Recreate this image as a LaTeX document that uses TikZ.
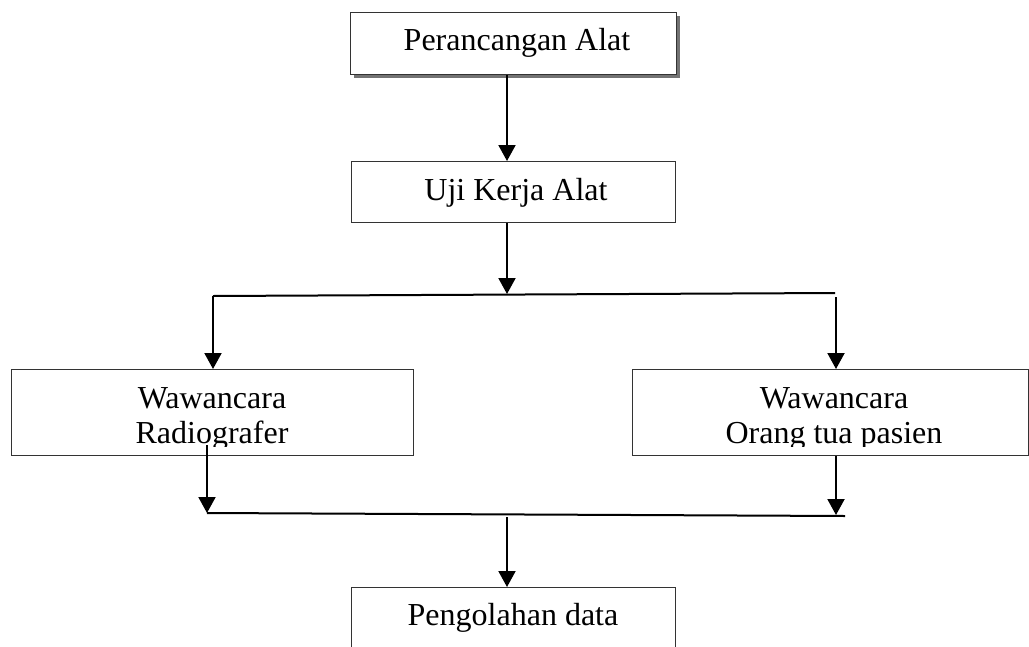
\documentclass[tikz,border=0pt]{standalone}
\usepackage{fontspec}
\setmainfont{Liberation Serif}
\usetikzlibrary{arrows.meta,shadows}
\begin{document}
\begin{tikzpicture}[x=1pt,y=-1pt,
  box/.style={draw=black!80,line width=1.1pt,inner sep=0pt,anchor=north west,fill=white},
  lbl/.style={anchor=base,inner sep=0pt,font=\fontsize{32}{36}\selectfont},
  wire/.style={line width=2pt},
  arr/.style={line width=2pt,-{Triangle[width=17pt,length=16pt]}}]
\useasboundingbox (0,0) rectangle (1029,646);
\clip (0,0) rectangle (1029,646);
% boxes
\node[box,minimum width=326pt,minimum height=62pt,
      drop shadow={shadow xshift=3pt,shadow yshift=-3.5pt,fill=black!55,opacity=1}] (b1) at (350,12) {};
\node[box,minimum width=324pt,minimum height=61pt] (b2) at (351,161) {};
\node[box,minimum width=402pt,minimum height=86pt] (b3) at (11,369) {};
\node[box,minimum width=396pt,minimum height=86pt] (b4) at (632,369) {};
\node[box,minimum width=324pt,minimum height=100pt] (b5) at (351,587) {};
% texts
\node[lbl] (t1) at (517,50) {Perancangan Alat};
\node[lbl] (t2) at (516,200) {Uji Kerja Alat};
\begin{scope}
  \clip (b3.north west) rectangle (413,446);
  \node[lbl] (t3a) at (212,408) {Wawancara};
  \node[lbl] (t3b) at (212,443) {Radiografer};
\end{scope}
\begin{scope}
  \clip (b4.north west) rectangle (1028,446);
  \node[lbl] (t4a) at (834,408) {Wawancara};
  \node[lbl] (t4b) at (834,443) {Orang tua pasien};
\end{scope}
\node[lbl] (t5) at (513,625) {Pengolahan data};
% connectors
\coordinate (c1) at (507,0);
\draw[arr] (b1.south -| c1) -- (b2.north -| c1);
\coordinate (jt) at (507,294);
\draw[arr] (b2.south -| jt) -- (jt);
\coordinate (tl) at (213,296);
\coordinate (tr) at (835,293);
\draw[wire] (tl) -- (tr);
\draw[arr] (tl) -- (tl |- b3.north);
\coordinate (trd) at (836,297);
\draw[arr] (trd) -- (trd |- b4.north);
\coordinate (bl) at (207,513);
\coordinate (br) at (845,516);
\draw[wire] (bl) -- (br);
\coordinate (s3) at (207,445);
\draw[arr] (s3) -- (bl);
\coordinate (ar) at (836,515);
\draw[arr] (b4.south -| ar) -- (ar);
\coordinate (jb) at (507,517);
\draw[arr] (jb) -- (jb |- b5.north);
\end{tikzpicture}
\end{document}
